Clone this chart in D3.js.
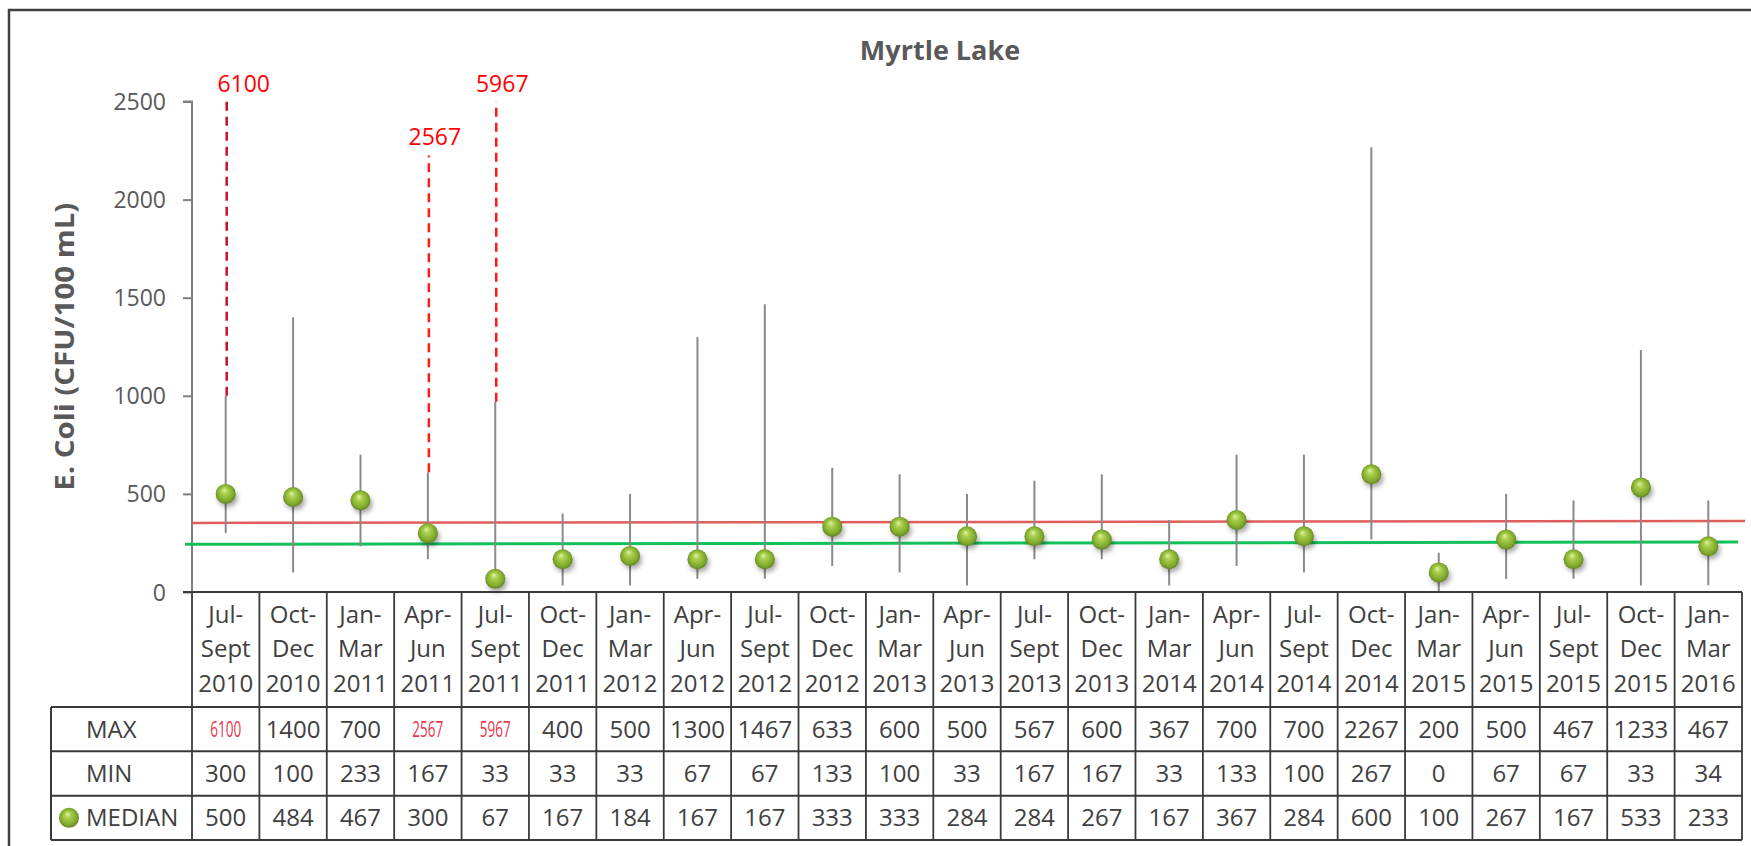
<!DOCTYPE html>
<html>
<head>
<meta charset="utf-8">
<script src="https://cdn.jsdelivr.net/npm/d3@7"></script>
<style>
  html, body { margin: 0; padding: 0; background: #fff; }
  svg { display: block; }
  text { font-family: "Open Sans", "Liberation Sans", sans-serif; }
</style>
</head>
<body>
<svg id="chart" width="1751" height="846"></svg>
<script>
// ---------- DATA ----------
const categories = ["Jul-Sept 2010","Oct-Dec 2010","Jan-Mar 2011","Apr-Jun 2011","Jul-Sept 2011","Oct-Dec 2011","Jan-Mar 2012","Apr-Jun 2012","Jul-Sept 2012","Oct-Dec 2012","Jan-Mar 2013","Apr-Jun 2013","Jul-Sept 2013","Oct-Dec 2013","Jan-Mar 2014","Apr-Jun 2014","Jul-Sept 2014","Oct-Dec 2014","Jan-Mar 2015","Apr-Jun 2015","Jul-Sept 2015","Oct-Dec 2015","Jan-Mar 2016"];
const maxVals    = [6100,1400,700,2567,5967,400,500,1300,1467,633,600,500,567,600,367,700,700,2267,200,500,467,1233,467];
const minVals    = [300,100,233,167,33,33,33,67,67,133,100,33,167,167,33,133,100,267,0,67,67,33,34];
const medianVals = [500,484,467,300,67,167,184,167,167,333,333,284,284,267,167,367,284,600,100,267,167,533,233];
const yTicks = [0,500,1000,1500,2000,2500];
const rowLabels = ["MAX","MIN","MEDIAN"];
// off-scale maxima: solid whisker stops at breakAt, red dashed line continues to dashTop
const outlierCats   = ["Jul-Sept 2010","Apr-Jun 2011","Jul-Sept 2011"];
const outlierMax    = [6100, 2567, 5967];
const outlierBreak  = [1000, 610, 970];
const outlierTop    = [2500, 2225, 2500];
// reference lines (start value, end value)
const redLine   = [352, 362];
const greenLine = [243, 255];

// ---------- LAYOUT ----------
const svg = d3.select("#chart");
const plotLeft = 192, plotRight = 1742, plotTop = 101.5, plotBottom = 592;
const headerBottom = 707, tableBottom = 840, tableLeft = 51;

const x = d3.scaleBand().domain(categories).range([plotLeft, plotRight]);
const y = d3.scaleLinear().domain([0, 2500]).range([plotBottom, plotTop]);
const rowY = d3.scaleBand().domain(rowLabels).range([headerBottom, tableBottom]);
const cx = c => x(c) + x.bandwidth() / 2;

const textCol = "#404040";
const axisCol = "#595959";

// gradient + shadow defs
const defs = svg.append("defs");
const grad = defs.append("radialGradient").attr("id", "ball")
  .attr("cx", "50%").attr("cy", "50%").attr("r", "55%")
  .attr("fx", "42%").attr("fy", "30%");
grad.append("stop").attr("offset", "0%").attr("stop-color", "#e2f2a8");
grad.append("stop").attr("offset", "30%").attr("stop-color", "#a9cf4c");
grad.append("stop").attr("offset", "75%").attr("stop-color", "#7fa92c");
grad.append("stop").attr("offset", "100%").attr("stop-color", "#55781a");
const sh = defs.append("filter").attr("id", "shadow").attr("x", "-50%").attr("y", "-50%").attr("width", "200%").attr("height", "200%");
sh.append("feGaussianBlur").attr("stdDeviation", 2.5);

// outer frame
svg.append("rect").attr("x", 9).attr("y", 10).attr("width", 1900).attr("height", 1000)
  .attr("fill", "none").attr("stroke", "#404040").attr("stroke-width", 2.5);

// title
svg.append("text").attr("x", 940).attr("y", 60).attr("text-anchor", "middle")
  .attr("font-size", 27).attr("font-weight", "bold").attr("fill", axisCol)
  .text("Myrtle Lake");

// y axis title
svg.append("text")
  .attr("transform", `translate(74, ${(plotTop + plotBottom) / 2}) rotate(-90)`)
  .attr("text-anchor", "middle").attr("font-size", 27).attr("font-weight", "bold")
  .attr("textLength", 288).attr("lengthAdjust", "spacingAndGlyphs")
  .attr("fill", axisCol).text("E. Coli (CFU/100 mL)");

// y axis
const yAxis = svg.append("g").attr("transform", `translate(${plotLeft},0)`)
  .call(d3.axisLeft(y).tickValues(yTicks).tickSize(9).tickPadding(17).tickFormat(d3.format("d")));
yAxis.select(".domain").attr("stroke", "#7f7f7f").attr("stroke-width", 2)
  .attr("d", `M-9,${plotTop}H0V${plotBottom}`);
yAxis.selectAll(".tick line").attr("stroke", "#7f7f7f").attr("stroke-width", 2);
yAxis.selectAll(".tick text").attr("font-size", 23).attr("fill", axisCol)
  .attr("font-family", "'Open Sans', sans-serif").attr("dy", "0.35em");

// reference lines
svg.append("line").attr("x1", plotLeft).attr("x2", plotRight + 3)
  .attr("y1", y(redLine[0])).attr("y2", y(redLine[1]))
  .attr("stroke", "#dd5e5a").attr("stroke-width", 2.5);
svg.append("line").attr("x1", plotLeft - 7).attr("x2", plotRight - 4)
  .attr("y1", y(greenLine[0])).attr("y2", y(greenLine[1]))
  .attr("stroke", "#14c05a").attr("stroke-width", 3);

// whiskers (min to max, capped where the maximum runs off-scale)
const capped = categories.map((c, i) => {
  const k = outlierCats.indexOf(c);
  return k >= 0 ? outlierBreak[k] : maxVals[i];
});
svg.append("g").selectAll("line").data(categories).join("line")
  .attr("x1", d => cx(d)).attr("x2", d => cx(d))
  .attr("y1", (d, i) => y(minVals[i])).attr("y2", (d, i) => y(capped[i]))
  .attr("stroke", "#8a8a8a").attr("stroke-width", 2);

// off-scale dashed extensions + labels
const outG = svg.append("g");
outG.selectAll("line").data(outlierCats).join("line")
  .attr("x1", (d, k) => cx(d) + 1).attr("x2", (d, k) => cx(d) + 1)
  .attr("y1", (d, k) => y(outlierBreak[k])).attr("y2", (d, k) => y(outlierTop[k]))
  .attr("stroke", (d, k) => k === 0 ? "#c8102e" : "#ff1a1a")
  .attr("stroke-width", 2.5).attr("stroke-dasharray", "9,6");
outG.selectAll("text").data(outlierCats).join("text")
  .attr("x", (d, k) => cx(d) + (k === 0 ? 18 : 7)).attr("y", (d, k) => y(outlierTop[k]) - 10)
  .attr("text-anchor", "middle").attr("font-size", 23).attr("fill", "#ff0000")
  .text((d, k) => outlierMax[k]);

// median markers
const mk = svg.append("g");
mk.selectAll("ellipse").data(categories).join("ellipse")
  .attr("cx", d => cx(d) + 2).attr("cy", (d, i) => y(medianVals[i]) + 4)
  .attr("rx", 10).attr("ry", 9).attr("fill", "rgba(0,0,0,0.35)").attr("filter", "url(#shadow)");
mk.selectAll("circle").data(categories).join("circle")
  .attr("cx", d => cx(d)).attr("cy", (d, i) => y(medianVals[i]))
  .attr("r", 10).attr("fill", "url(#ball)");

// ---------- TABLE ----------
const tbl = svg.append("g");
const lineCol = "#3a3a3a";
// horizontal lines
tbl.append("line").attr("x1", plotLeft - 9).attr("x2", plotRight).attr("y1", plotBottom).attr("y2", plotBottom)
  .attr("stroke", lineCol).attr("stroke-width", 2);
[headerBottom, ...rowLabels.map(r => rowY(r) + rowY.bandwidth())].forEach(yy => {
  tbl.append("line").attr("x1", tableLeft).attr("x2", plotRight).attr("y1", yy).attr("y2", yy)
    .attr("stroke", lineCol).attr("stroke-width", 2);
});
// vertical lines
tbl.selectAll("line.v").data(categories.concat(["__end"])).join("line").attr("class", "v")
  .attr("x1", d => d === "__end" ? plotRight : x(d)).attr("x2", d => d === "__end" ? plotRight : x(d))
  .attr("y1", plotBottom).attr("y2", tableBottom)
  .attr("stroke", lineCol).attr("stroke-width", 1.8);
tbl.append("line").attr("x1", tableLeft).attr("x2", tableLeft).attr("y1", headerBottom).attr("y2", tableBottom)
  .attr("stroke", lineCol).attr("stroke-width", 2);

// header category labels (3 lines)
const headerBase = [623, 657, 692];
categories.forEach(c => {
  const parts = c.split(/-| /);
  const lines = [parts[0] + "-", parts[1], parts[2]];
  lines.forEach((t, j) => {
    tbl.append("text").attr("x", cx(c)).attr("y", headerBase[j]).attr("text-anchor", "middle")
      .attr("font-size", 24).attr("fill", textCol).text(t);
  });
});

// row labels
rowLabels.forEach(r => {
  tbl.append("text").attr("x", 86).attr("y", rowY(r) + rowY.bandwidth() / 2 + 8.5)
    .attr("font-size", 24).attr("fill", textCol).text(r);
});
// legend marker in MEDIAN row
const lmY = rowY("MEDIAN") + rowY.bandwidth() / 2;
tbl.append("circle").attr("cx", 69).attr("cy", lmY).attr("r", 10).attr("fill", "url(#ball)");

// values
const rows = { MAX: maxVals, MIN: minVals, MEDIAN: medianVals };
rowLabels.forEach(r => {
  categories.forEach((c, i) => {
    const v = rows[r][i];
    const isOut = r === "MAX" && outlierCats.includes(c);
    const t = tbl.append("text").attr("x", cx(c)).attr("y", rowY(r) + rowY.bandwidth() / 2 + 8.5)
      .attr("text-anchor", "middle").attr("fill", isOut ? "#e8364c" : textCol)
      .attr("font-size", isOut ? 22 : 24).text(v);
    if (isOut) t.attr("textLength", 31).attr("lengthAdjust", "spacingAndGlyphs").attr("y", rowY(r) + rowY.bandwidth() / 2 + 8);
  });
});
</script>
</body>
</html>
